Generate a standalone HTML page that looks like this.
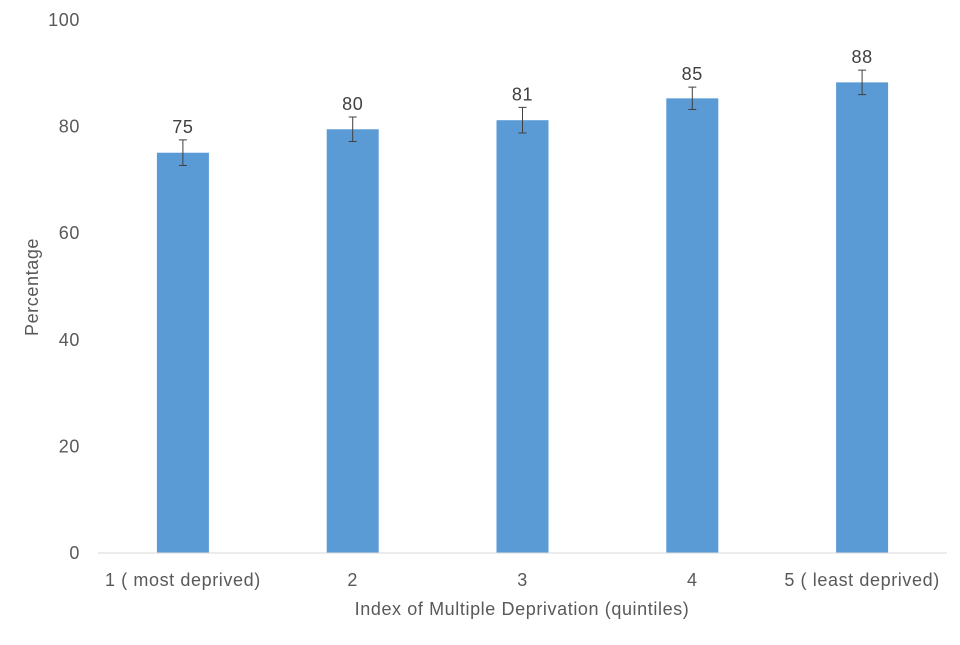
<!DOCTYPE html>
<html><head><meta charset="utf-8"><style>
html,body{margin:0;padding:0;background:#fff;}
svg text{font-family:"Liberation Sans",sans-serif;fill:#595959;letter-spacing:0.6px;}
</style></head><body>
<svg id="chart" width="960" height="640">
<g id="yticks"></g><g id="bars"></g><g id="xlabels"></g>
<line x1="98" y1="553" x2="947" y2="553" stroke="#d9d9d9" stroke-width="1"/>
<text x="522" y="615" font-size="18" text-anchor="middle">Index of Multiple Deprivation (quintiles)</text>
<text transform="translate(38,287) rotate(-90)" font-size="18" text-anchor="middle">Percentage</text>
</svg>
<script>
const categories=["1 ( most deprived)","2","3","4","5 ( least deprived)"];
const values=[75.1,79.5,81.2,85.3,88.3];
const labels=["75","80","81","85","88"];
const errors=[2.4,2.3,2.4,2.1,2.3];
const yTicks=[0,20,40,60,80,100];
const NS="http://www.w3.org/2000/svg";
const x0=98,x1=947,yb=553,yt=20;
const y=v=>yb-(v/100)*(yb-yt);
const band=(x1-x0)/categories.length;
const xc=i=>x0+band*(i+0.5);
function mk(t,a,p){const e=document.createElementNS(NS,t);for(const k in a)e.setAttribute(k,a[k]);p.appendChild(e);return e;}
const gy=document.getElementById('yticks');
yTicks.forEach(v=>{const t=mk('text',{x:80,y:y(v)+6,'font-size':18,'text-anchor':'end'},gy);t.textContent=v;

});
const gb=document.getElementById('bars'),gx=document.getElementById('xlabels');
values.forEach((v,i)=>{
 const r=mk('rect',{x:xc(i)-26,y:y(v),width:52,height:yb-y(v),fill:'#5b9bd5'},gb);
 
 
 const e=errors[i],cx=xc(i);
 const l=mk('path',{d:`M${cx},${y(v+e)}V${y(v-e)}M${cx-4},${y(v+e)}H${cx+4}M${cx-4},${y(v-e)}H${cx+4}`,stroke:'#404040','stroke-width':1,fill:'none'},gb);
 
 
 const t=mk('text',{x:cx,y:y(v+e)-7,'font-size':18,'text-anchor':'middle',style:'fill:#404040'},gb);t.textContent=labels[i];
 
 
 const c=mk('text',{x:cx,y:586,'font-size':18,'text-anchor':'middle'},gx);c.textContent=categories[i];
 
 
});
</script>
</body></html>
